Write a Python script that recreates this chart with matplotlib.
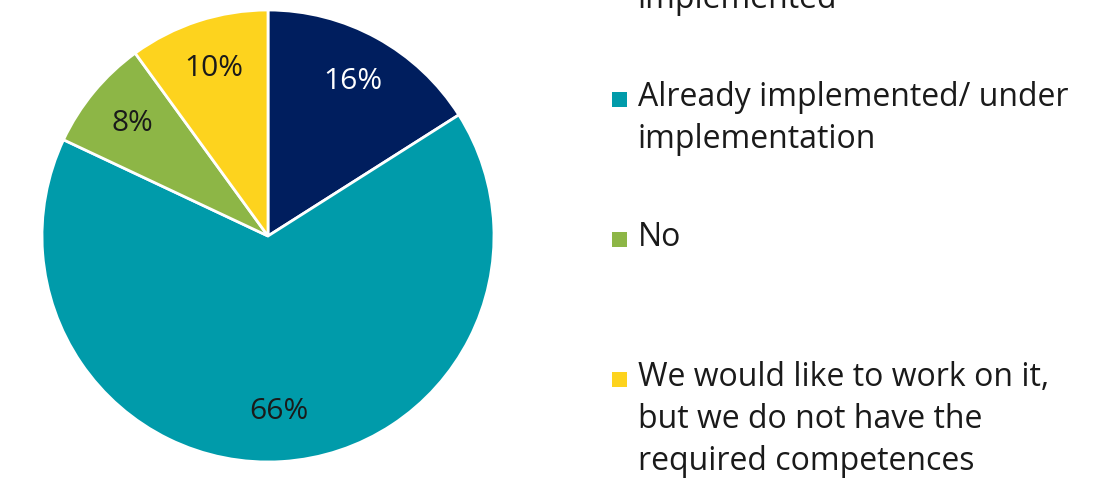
import matplotlib.pyplot as plt
from matplotlib.patches import Rectangle

# Survey answers, clockwise from 12 o'clock
labels = ['Not yet, but planned to be\nimplemented',
          'Already implemented/ under\nimplementation',
          'No',
          'We would like to work on it,\nbut we do not have the\nrequired competences']
shares = [16, 66, 8, 10]
colors = ['#001E5E', '#009BAA', '#8DB646', '#FDD31E']
pct_colors = ['white', '#1a1a1a', '#1a1a1a', '#1a1a1a']

plt.rcParams['font.family'] = ['Open Sans', 'DejaVu Sans']

W, H = 1104, 484
fig = plt.figure(figsize=(W / 100, H / 100), dpi=100)

# Pie: centre (268, 236), radius 226 px
cx, cy, r = 268, 236, 226
ax = fig.add_axes([(cx - r) / W, (H - cy - r) / H, 2 * r / W, 2 * r / H])
wedges, texts, autotexts = ax.pie(
    shares, colors=colors, startangle=90, counterclock=False,
    autopct='%d%%', pctdistance=0.78,
    wedgeprops=dict(edgecolor='white', linewidth=2),
    textprops=dict(fontsize=21.5))
for t, c in zip(autotexts, pct_colors):
    t.set_color(c)
ax.set_xlim(-1, 1)
ax.set_ylim(-1, 1)
ax.set_aspect('equal')

# Legend drawn by hand: marker on first line, 140 px between entries
line_h = 42
first_y = -42
for i, (lab, col) in enumerate(zip(labels, colors)):
    y0 = first_y + i * 140
    fig.patches.append(Rectangle((612 / W, 1 - (y0 + 9) / H), 15 / W, 15 / H,
                                 transform=fig.transFigure, facecolor=col,
                                 edgecolor='none'))
    for j, line in enumerate(lab.split('\n')):
        fig.text(638 / W, 1 - (y0 + j * line_h) / H, line, fontsize=23,
                 color='#1a1a1a', va='center', ha='left')

fig.savefig('out.png', dpi=100, facecolor='white')
